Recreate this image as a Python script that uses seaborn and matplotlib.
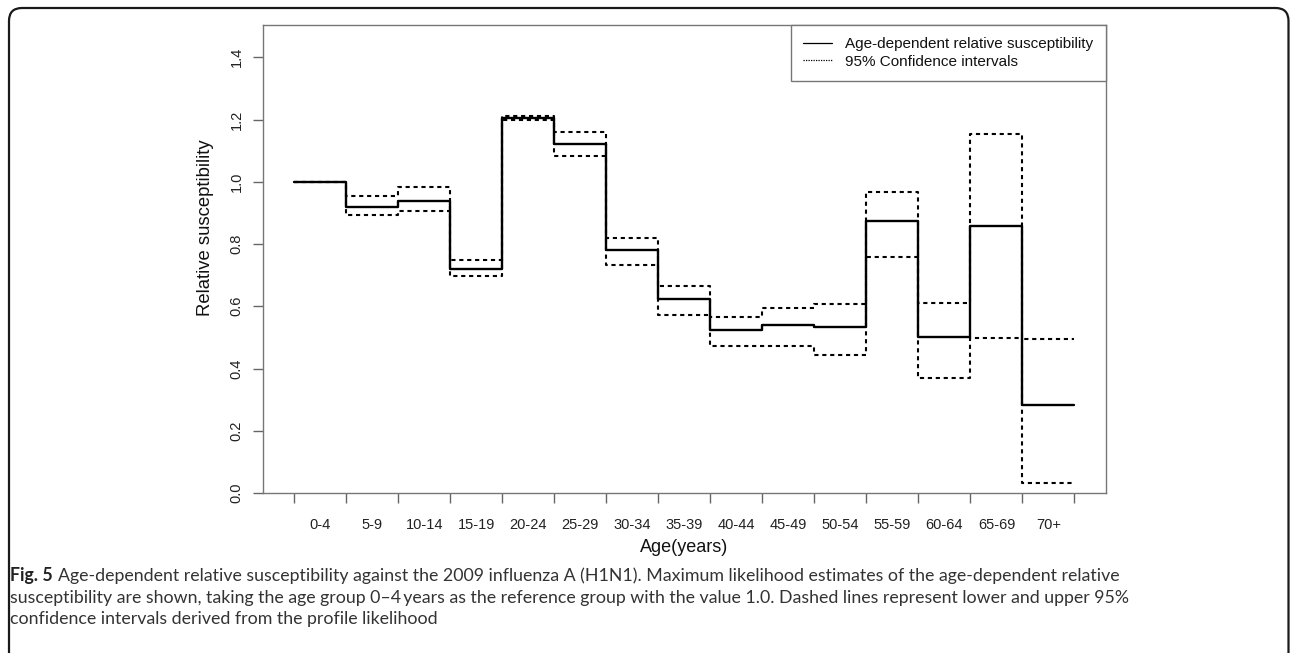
import numpy as np
import pandas as pd
import matplotlib
matplotlib.use("Agg")
import matplotlib.pyplot as plt
import seaborn as sns
from matplotlib.lines import Line2D
from matplotlib.patches import FancyBboxPatch
from matplotlib.transforms import IdentityTransform

# ---- data ----
age_groups = ["0-4", "5-9", "10-14", "15-19", "20-24", "25-29", "30-34", "35-39",
              "40-44", "45-49", "50-54", "55-59", "60-64", "65-69", "70+"]
rel_susceptibility = [1.000, 0.920, 0.939, 0.721, 1.204, 1.123, 0.781, 0.623,
                      0.525, 0.539, 0.532, 0.874, 0.500, 0.858, 0.284]
ci_lower = [1.000, 0.893, 0.905, 0.698, 1.198, 1.083, 0.734, 0.571,
            0.474, 0.473, 0.442, 0.760, 0.371, 0.498, 0.032]
ci_upper = [1.000, 0.955, 0.982, 0.748, 1.212, 1.159, 0.820, 0.666,
            0.566, 0.594, 0.607, 0.966, 0.609, 1.155, 0.494]
y_ticks = [0.0, 0.2, 0.4, 0.6, 0.8, 1.0, 1.2, 1.4]
legend_labels = ["Age-dependent relative susceptibility", "95% Confidence intervals"]
caption_bold = "Fig. 5"
caption_lines = [
    "Age-dependent relative susceptibility against the 2009 influenza A (H1N1). Maximum likelihood estimates of the age-dependent relative",
    "susceptibility are shown, taking the age group 0\u20134\u2009years as the reference group with the value 1.0. Dashed lines represent lower and upper 95%",
    "confidence intervals derived from the profile likelihood",
]

sns.set_style("white")
plt.rcParams["font.family"] = ["Liberation Sans", "DejaVu Sans"]

W, H = 1290, 653
fig = plt.figure(figsize=(W / 100, H / 100), dpi=100)
ax = fig.add_axes([263 / W, 1 - 493 / H, (1105.7 - 263) / W, (493 - 25) / H])

n = len(age_groups)
edges = np.arange(n + 1)


def step_df(vals):
    return pd.DataFrame({"x": edges, "y": list(vals) + [vals[-1]]})


sns.lineplot(data=step_df(rel_susceptibility), x="x", y="y", drawstyle="steps-post",
             color="black", lw=1.7, estimator=None, sort=False, ax=ax, zorder=3)
for ci in (ci_lower, ci_upper):
    sns.lineplot(data=step_df(ci), x="x", y="y", drawstyle="steps-post",
                 color="black", lw=1.5, linestyle=(0, (2, 1.8)), estimator=None,
                 sort=False, ax=ax, zorder=4)

ax.set_xlim(-0.6, n + 0.6)
ax.set_ylim(0, 1.504)

# x ticks at group boundaries, labels centred in groups
ax.set_xticks(edges)
ax.set_xticklabels([""] * len(edges))
ax.set_xticks(np.arange(n) + 0.5, minor=True)
ax.set_xticklabels(age_groups, minor=True, fontsize=10.5, color="#222222")
ax.tick_params(axis="x", which="major", bottom=True, length=7, width=1, color="#666666", direction="out")
ax.tick_params(axis="x", which="minor", bottom=True, length=0, pad=18)

ax.set_yticks(y_ticks)
ax.set_yticklabels([f"{v:.1f}" for v in y_ticks], rotation=90, va="center",
                   fontsize=10.5, color="#222222")
ax.tick_params(axis="y", left=True, length=7, width=1, color="#666666", direction="out", pad=7)

for s in ax.spines.values():
    s.set_visible(True)
    s.set_color("#777777")
    s.set_linewidth(1.0)

ax.set_xlabel("")
ax.set_ylabel("")
fig.text(684 / W, 1 - 547 / H, "Age(years)", ha="center", va="center", fontsize=13, color="#111111")
fig.text(205 / W, 1 - 228 / H, "Relative susceptibility", ha="center", va="center",
         rotation=90, fontsize=13.3, color="#111111")

handles = [Line2D([], [], color="black", lw=0.9),
           Line2D([], [], color="black", lw=0.9, linestyle=(0, (1, 1)))]
leg = ax.legend(handles, legend_labels, loc="upper right", bbox_to_anchor=(1, 1),
                borderaxespad=0, frameon=True, fancybox=False, framealpha=1,
                edgecolor="#777777", fontsize=11, handlelength=1.85, handletextpad=0.9,
                borderpad=0.8, labelspacing=0.22)
leg.get_frame().set_linewidth(1.0)
for t in leg.get_texts():
    t.set_color("#111111")

# caption
cap_font = "Lato"
cap_size = 12.8
y0 = 1 - 581 / H
line_step = 21.5 / H
bold = fig.text(10 / W, y0, caption_bold, fontsize=cap_size, fontweight="bold",
                family=cap_font, color="#222222", va="baseline", ha="left")
fig.canvas.draw()
bb = bold.get_window_extent()
fig.text((bb.x1 + 5) / W, y0, caption_lines[0], fontsize=cap_size, family=cap_font,
         color="#333333", va="baseline", ha="left")
for i, line in enumerate(caption_lines[1:], start=1):
    fig.text(10 / W, y0 - i * line_step, line, fontsize=cap_size, family=cap_font,
             color="#333333", va="baseline", ha="left")

# rounded figure border (open at the bottom)
border = FancyBboxPatch((9, -40), 1288.5 - 9, (H - 8) + 40, boxstyle="round,pad=0,rounding_size=13",
                        transform=IdentityTransform(), fill=False, edgecolor="#1a1a1a",
                        linewidth=1.6)
fig.patches.append(border)

fig.savefig("out.png", dpi=100)
